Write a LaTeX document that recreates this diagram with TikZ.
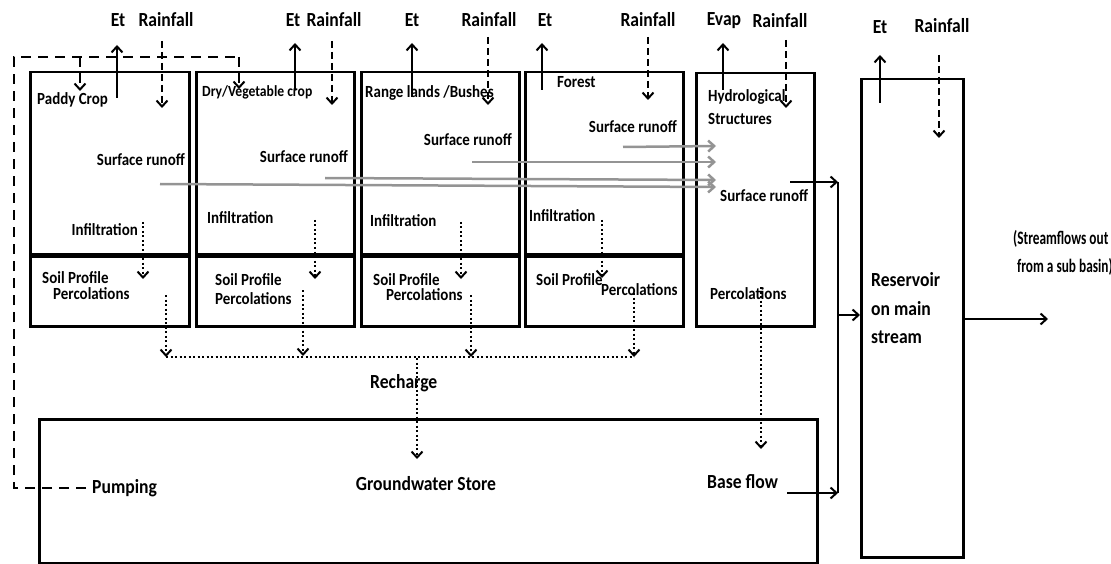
\documentclass[tikz,border=0pt]{standalone}
\usepackage{fontspec}
\setmainfont{Carlito}[FakeStretch=0.88]
\newfontfamily\narrowfam{Carlito}[FakeStretch=0.70]
\usetikzlibrary{arrows.meta}
\begin{document}
\begin{tikzpicture}[x=1pt,y=-1pt,
  box/.style={draw, line width=2.5pt, inner sep=0pt, anchor=north west},
  hd/.style={font=\bfseries\fontsize{20}{21}\selectfont, inner sep=0pt},
  lb/.style={font=\bfseries\fontsize{17}{18}\selectfont, inner sep=0pt},
  big/.style={font=\bfseries\fontsize{20}{21}\selectfont, inner sep=0pt},
  nar/.style={font=\narrowfam\bfseries\fontsize{19}{20}\selectfont, inner sep=0pt},
  et/.style={line width=2pt, -{Straight Barb[length=6pt,width=11pt,line width=2pt]}},
  rain/.style={et, dash pattern=on 7pt off 4pt},
  dotarr/.style={line width=2pt, dash pattern=on 2pt off 2.5pt, -{Straight Barb[length=6pt,width=11pt,line width=2pt,line cap=butt]}},
  dotline/.style={line width=2.2pt, dash pattern=on 2pt off 2.5pt},
  runoff/.style={draw=black!42, line width=2.5pt, -{Straight Barb[length=6pt,width=11pt,line width=2.5pt]}},
  pump/.style={line width=2.5pt, dash pattern=on 10pt off 7pt},
  flow/.style={line width=2pt, -{Straight Barb[length=6pt,width=11pt,line width=2pt]}}
]
\useasboundingbox (0,0) rectangle (1111,564);

% ---------- boxes ----------
\node[box,minimum width=159pt,minimum height=182pt] (b1u) at (29,71) {};
\node[box,minimum width=159pt,minimum height=72pt]  (b1l) at (29,253) {};
\node[box,minimum width=158pt,minimum height=182pt] (b2u) at (195,71) {};
\node[box,minimum width=158pt,minimum height=72pt]  (b2l) at (195,253) {};
\node[box,minimum width=158pt,minimum height=182pt] (b3u) at (360,71) {};
\node[box,minimum width=158pt,minimum height=72pt]  (b3l) at (360,253) {};
\node[box,minimum width=158pt,minimum height=182pt] (b4u) at (524,71) {};
\node[box,minimum width=158pt,minimum height=72pt]  (b4l) at (524,253) {};
\node[box,minimum width=118pt,minimum height=253pt] (b5) at (695,72) {};
\node[box,minimum width=102pt,minimum height=478pt] (res) at (860,78) {};
\node[box,minimum width=778pt,minimum height=144pt] (gw) at (38,418) {};
\foreach \b in {b1u,b2u,b3u,b4u}{\draw[line width=4pt] (\b.south west) -- (\b.south east);}

% ---------- header labels ----------
\node[hd] (et1) at (118,20) {Et};
\node[hd] (rf1) at (166,20) {Rainfall};
\node[hd] (et2) at (293,20) {Et};
\node[hd] (rf2) at (334,20) {Rainfall};
\node[hd] (et3) at (412,20) {Et};
\node[hd] (rf3) at (489,20) {Rainfall};
\node[hd] (et4) at (545,20) {Et};
\node[hd] (rf4) at (648,20) {Rainfall};
\node[hd] (ev5) at (724,21) {Evap};
\node[hd] (rf5) at (780,21) {Rainfall};
\node[hd] (et6) at (880,27) {Et};
\node[hd] (rf6) at (942,26) {Rainfall};

% ---------- box labels ----------
\node[lb,anchor=west] (t1) at (37,100) {Paddy Crop};
\node[lb,anchor=west,font=\bfseries\fontsize{15.5}{16}\selectfont] (t2) at (202,92) {Dry/Vegetable crop};
\node[lb,anchor=west] (t3) at (365,93) {Range lands /Bushes};
\node[lb,anchor=west] (t4) at (557,82) {Forest};
\node[lb,anchor=west] (t5a) at (708,97) {Hydrological};
\node[lb,anchor=west] (t5b) at (708,119) {Structures};

\node[lb,anchor=east] (sr1) at (185,160) {Surface runoff};
\node[lb,anchor=east] (sr2) at (348,157) {Surface runoff};
\node[lb,anchor=east] (sr3) at (512,140) {Surface runoff};
\node[lb,anchor=east] (sr4) at (677,127) {Surface runoff};
\node[lb,anchor=west] (sr5) at (720,196) {Surface runoff};

\node[lb,anchor=east] (in1) at (138,230) {Infiltration};
\node[lb,anchor=west] (in2) at (207,218) {Infiltration};
\node[lb,anchor=west] (in3) at (370,221) {Infiltration};
\node[lb,anchor=west] (in4) at (529,216) {Infiltration};

\node[lb,anchor=west] (sp1) at (42,278) {Soil Profile};
\node[lb,anchor=west] (sp2) at (215,280) {Soil Profile};
\node[lb,anchor=west] (sp3) at (373,280) {Soil Profile};
\node[lb,anchor=west] (sp4) at (536,280) {Soil Profile};

\node[lb,anchor=west] (pc1) at (53,294) {Percolations};
\node[lb,anchor=west] (pc2) at (215,299) {Percolations};
\node[lb,anchor=west] (pc3) at (386,295) {Percolations};
\node[lb,anchor=west] (pc4) at (601,290) {Percolations};
\node[lb,anchor=west] (pc5) at (710,294) {Percolations};

\node[big,anchor=west] (rch) at (370,383) {Recharge};
\node[big] (gws) at (426,484) {Groundwater Store};
\node[big,anchor=west] (pmp) at (92,488) {Pumping};
\node[big,anchor=west] (bf) at (707,482) {Base flow};

\node[big,anchor=west] (r1) at (871,280) {Reservoir};
\node[big,anchor=west] (r2) at (871,309) {on main};
\node[big,anchor=west] (r3) at (871,337) {stream};
\node[nar,anchor=west] (so1) at (1013,239) {(Streamflows out};
\node[nar,anchor=west] (so2) at (1017,267) {from a sub basin)};

% ---------- Et / Evap arrows ----------
\coordinate (e1a) at (117,98);  \coordinate (e1b) at (117,45);
\coordinate (e2a) at (295,90);  \coordinate (e2b) at (295,43);
\coordinate (e3a) at (412,97);  \coordinate (e3b) at (412,43);
\coordinate (e4a) at (542,90);  \coordinate (e4b) at (542,43);
\coordinate (e5a) at (723,90);  \coordinate (e5b) at (723,43);
\coordinate (e6a) at (880,103); \coordinate (e6b) at (880,55);
\foreach \i in {1,...,6}{\draw[et] (e\i a) -- (e\i b);}

% ---------- Rainfall arrows ----------
\coordinate (r1a) at (162,41);  \coordinate (r1b) at (162,108);
\coordinate (r2a) at (332,41);  \coordinate (r2b) at (332,105);
\coordinate (r3a) at (488,37);  \coordinate (r3b) at (488,105);
\coordinate (r4a) at (648,37);  \coordinate (r4b) at (648,100);
\coordinate (r5a) at (786,40);  \coordinate (r5b) at (786,108);
\coordinate (r6a) at (939,55);  \coordinate (r6b) at (939,138);
\foreach \i in {1,...,6}{\draw[rain] (r\i a) -- (r\i b);}

% ---------- surface runoff (grey) ----------
\coordinate (g1a) at (160,184); \coordinate (g1b) at (716,187);
\coordinate (g2a) at (325,178); \coordinate (g2b) at (716,180);
\coordinate (g3a) at (472,162); \coordinate (g3b) at (716,162);
\coordinate (g4a) at (623,147); \coordinate (g4b) at (716,146);
\foreach \i in {1,...,4}{\draw[runoff] (g\i a) -- (g\i b);}

% ---------- infiltration ----------
\coordinate (i1a) at (143,222); \coordinate (i1b) at (143,279);
\coordinate (i2a) at (315,220); \coordinate (i2b) at (315,279);
\coordinate (i3a) at (461,222); \coordinate (i3b) at (461,279);
\coordinate (i4a) at (602,220); \coordinate (i4b) at (602,278);
\foreach \i in {1,...,4}{\draw[dotarr] (i\i a) -- (i\i b);}

% ---------- percolation / recharge ----------
\coordinate (p1a) at (166,295); \coordinate (p1b) at (166,357);
\coordinate (p2a) at (303,290); \coordinate (p2b) at (303,356);
\coordinate (p3a) at (471,295); \coordinate (p3b) at (471,357);
\coordinate (p4a) at (634,293); \coordinate (p4b) at (634,357);
\foreach \i in {1,...,4}{\draw[dotarr] (p\i a) -- (p\i b);}
\draw[dotline] (p1b) -- (p4b);
\coordinate (rc) at (417,358);
\draw[dotarr] (rc) -- (417,459);
\coordinate (p5a) at (761,287);
\draw[dotarr] (p5a) -- (761,449);

% ---------- pumping ----------
\coordinate (pk) at (14,57);
\coordinate (pk2) at (239,57);
\draw[pump] ([xshift=-6pt]pmp.west) -- (pmp.west -| pk) -- (pk) -- (pk2) -- ++(0,8);
\draw[pump, dash pattern=on 10pt off 6pt, -{Straight Barb[length=6pt,width=11pt,line width=2pt]}] (80,57) -- (80,91);
\draw[pump, dash pattern=on 10pt off 6pt, -{Straight Barb[length=6pt,width=11pt,line width=2pt]}] (pk2) -- (239,89);

% ---------- outflows ----------
\coordinate (jt) at (838,182);
\coordinate (jb) at (838,493);
\coordinate (s5) at (790,182);
\coordinate (bfs) at (787,493);
\draw[flow] (s5) -- (jt);
\draw[flow] (bfs) -- (jb);
\draw[line width=2pt] (jt) -- (jb);
\draw[flow] (838,315) -- (res.west |- 0,315);
\draw[flow] (res.east |- 0,319) -- (1048,319);
\end{tikzpicture}
\end{document}
